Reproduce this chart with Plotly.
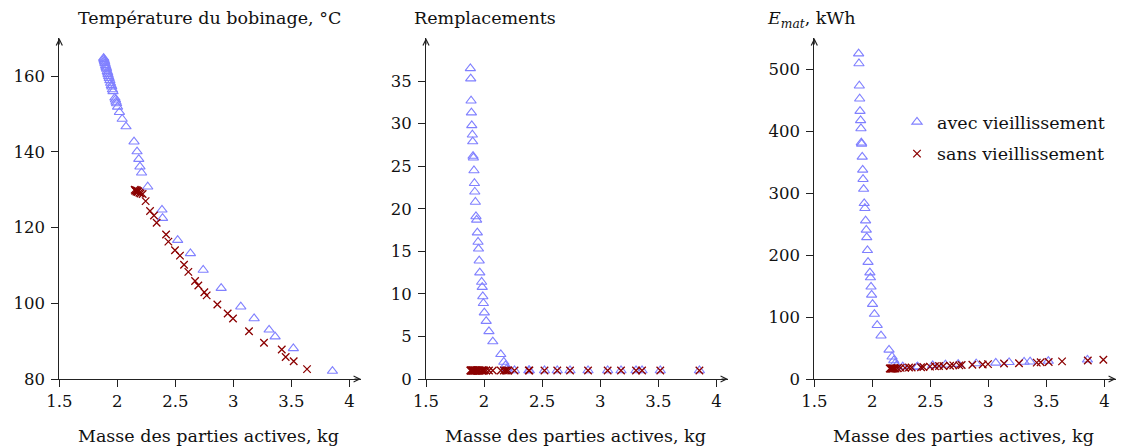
import plotly.graph_objects as go

# ---------------- data ----------------
x_avec = [1.882, 1.885, 1.888, 1.891, 1.894, 1.899, 1.902, 1.905, 1.908, 1.913,
          1.917, 1.920, 1.925, 1.930, 1.936, 1.942, 1.948, 1.952, 1.958, 1.963,
          1.979, 1.984, 1.989, 1.994, 2.002, 2.018,
          2.042, 2.075, 2.144, 2.170, 2.185, 2.195,
          2.209, 2.262, 2.385, 2.390, 2.520, 2.630, 2.740, 2.895, 3.064, 3.179,
          3.308, 3.360, 3.517, 3.854]
temp_avec = [164.8, 164.5, 164.1, 163.8, 163.4, 162.9, 162.5, 162.2, 161.9, 161.3,
             160.9, 160.5, 160.0, 159.5, 158.9, 158.2, 157.6, 157.2, 156.5, 156.0,
             154.3, 153.8, 153.2, 152.8, 151.9, 150.5,
             148.7, 146.7, 142.7, 140.1, 138.1, 136.1,
             134.5, 130.8, 124.7, 122.5, 116.7, 113.2, 108.8, 104.0, 99.1, 96.0,
             93.0, 91.2, 88.1, 82.1]
rempl_avec = [36.5, 35.3, 32.7, 31.3, 29.8, 28.7, 27.9, 26.2, 26.0, 24.5,
              23.0, 22.0, 20.8, 19.1, 18.7, 17.2, 16.1, 15.3, 13.9, 12.5,
              11.4, 10.8, 9.7, 8.9, 7.8, 6.8,
              5.6, 4.4, 2.9, 2.0, 1.6, 1.2,
              1, 1, 1, 1, 1, 1, 1, 1, 1, 1,
              1, 1, 1, 1]
emat_avec = [526, 510, 474, 453, 433, 418, 405, 382, 380, 359,
             338, 323, 307, 284, 276, 256, 241, 229, 208, 189,
             172, 164, 149, 136, 121, 105,
             87, 70, 47, 36, 30, 25,
             22, 20, 19, 20, 22, 23, 24, 25, 26, 27,
             27.5, 28, 29, 31]

x_sans = [2.150, 2.155, 2.160, 2.165, 2.170, 2.175, 2.180, 2.190, 2.200,
          2.218, 2.244, 2.282, 2.316, 2.339, 2.420, 2.440, 2.497, 2.540, 2.575,
          2.612, 2.670, 2.698, 2.750, 2.770, 2.862, 2.951, 2.997, 3.135, 3.264,
          3.417, 3.451, 3.520, 3.635, 3.857, 3.991]
temp_sans = [130.0, 129.7, 129.9, 129.5, 129.8, 129.4, 129.6, 129.2, 129.0,
             128.9, 127.0, 124.4, 123.2, 121.3, 118.2, 116.3, 114.0, 112.6, 110.2,
             108.3, 105.9, 104.7, 102.9, 102.1, 99.7, 97.3, 96.0, 92.6, 89.6,
             87.8, 85.8, 84.7, 82.6, None, None]
emat_sans = [17, 17, 17, 17, 17, 17, 17, 17, 17,
             17.5, 18, 18, 18.5, 18.5, 19, 19.5, 20, 20.5, 21,
             21, 21.5, 22, 22, 22.5, 23, 23.5, 24, 25, 25.5,
             26.5, 27, 27.5, 28.5, 30, 31]
# replacements without ageing (plotted against the same masses as the ageing series)
rempl_sans = [1, 1, 1, 1, 1, 1, 1, 1, 1, 1,
              1, 1, 1, 1, 1, 1, 1, 1, 1, 1,
              1, 1, 1, 1, 1, 1,
              1, 1, 1, 1, 1, 1,
              1, 1, 1, 1, 1, 1, 1, 1, 1, 1,
              1, 1, 1, 1]

x_ticks = [1.5, 2, 2.5, 3, 3.5, 4]
x_ticktext = ["1.5", "2", "2.5", "3", "3.5", "4"]
y1_ticks = [80, 100, 120, 140, 160]
y2_ticks = [0, 5, 10, 15, 20, 25, 30, 35]
y3_ticks = [0, 100, 200, 300, 400, 500]

titles = ["Température du bobinage, °C", "Remplacements", "<i>E<sub>mat</sub></i>, kWh"]
xlabel = "Masse des parties actives, kg"
legend_names = ["avec vieillissement", "sans vieillissement"]

# ---------------- style ----------------
FONT = "DejaVu Serif"
FS_TXT = 17.5
FS_TICK = 16.5
BLUE = "#8080ff"
RED = "#8b0000"
AXC = "#222222"
W, H = 1126, 448
OFF = 8              # page body margin
FW, FH = W - OFF, H - OFF


def px2x(px):
    return (px - OFF) / FW


def py2y(py):
    return 1 - (py - OFF) / FH


x_doms = [(59.3, 361.0), (426.0, 728.0), (814.3, 1116.0)]
y_dom = (py2y(379), py2y(38))
y_ranges = [[80, 170.1], [0, 40.07], [0, 551.2]]
y_ticks = [y1_ticks, y2_ticks, y3_ticks]

fig = go.Figure()


def add_pair(i, xa, ya, xs, ys, show):
    xr = "x" if i == 1 else f"x{i}"
    yr = "y" if i == 1 else f"y{i}"
    fig.add_trace(go.Scatter(x=xa, y=ya, mode="markers", xaxis=xr, yaxis=yr,
                             name=legend_names[0], showlegend=show, legendgroup="a",
                             marker=dict(symbol="triangle-up-open", size=9,
                                         color=BLUE, line=dict(width=1.1, color=BLUE))))
    fig.add_trace(go.Scatter(x=xs, y=ys, mode="markers", xaxis=xr, yaxis=yr,
                             name=legend_names[1], showlegend=show, legendgroup="s",
                             marker=dict(symbol="x-thin-open", size=7.5,
                                         color=RED, line=dict(width=1.3, color=RED))))


add_pair(1, x_avec, temp_avec, x_sans, temp_sans, False)
add_pair(2, x_avec, rempl_avec, x_avec, rempl_sans, False)
add_pair(3, x_avec, emat_avec, x_sans, emat_sans, True)

layout = dict(
    width=FW, height=FH,
    margin=dict(l=0, r=0, t=0, b=0, autoexpand=False),
    paper_bgcolor="white", plot_bgcolor="white",
    font=dict(family=FONT, size=FS_TXT, color="#111111"),
    showlegend=True,
    legend=dict(x=px2x(897), y=py2y(104), xanchor="left", yanchor="top",
                bgcolor="rgba(0,0,0,0)", borderwidth=0, tracegroupgap=6,
                font=dict(family=FONT, size=FS_TXT), itemwidth=30),
)
annotations = []
for i in range(3):
    sfx = "" if i == 0 else str(i + 1)
    layout["xaxis" + sfx] = dict(
        domain=[px2x(x_doms[i][0]), px2x(x_doms[i][1])], range=[1.5, 4.1],
        anchor="y" + sfx, tickvals=x_ticks, ticktext=x_ticktext,
        showgrid=False, zeroline=False, showline=True, linecolor=AXC, linewidth=1,
        ticks="outside", ticklen=7, tickcolor=AXC, tickwidth=1,
        ticklabelstandoff=0, tickfont=dict(family=FONT, size=FS_TICK))
    layout["yaxis" + sfx] = dict(
        domain=list(y_dom), range=y_ranges[i], anchor="x" + sfx,
        tickvals=y_ticks[i], showgrid=False, zeroline=False, showline=True,
        linecolor=AXC, linewidth=1, ticks="outside", ticklen=7, tickcolor=AXC,
        tickwidth=1, ticklabelstandoff=3, tickfont=dict(family=FONT, size=FS_TICK))
    xr = "x" + sfx
    yr = "y" + sfx
    # axis arrow heads
    annotations.append(dict(x=4.1, y=y_ranges[i][0], xref=xr, yref=yr, ax=-8, ay=0,
                            showarrow=True, arrowhead=5, arrowsize=1.2, arrowwidth=1,
                            arrowcolor=AXC, text=""))
    annotations.append(dict(x=1.5, y=y_ranges[i][1], xref=xr, yref=yr, ax=0, ay=8,
                            showarrow=True, arrowhead=5, arrowsize=1.2, arrowwidth=1,
                            arrowcolor=AXC, text=""))
    # x-axis label
    annotations.append(dict(x=px2x((x_doms[i][0] + x_doms[i][1]) / 2 - 2), y=py2y(436),
                            xref="paper", yref="paper", showarrow=False, text=xlabel,
                            xanchor="center", yanchor="middle",
                            font=dict(family=FONT, size=FS_TXT)))

title_cx = [209, 484.5, 811]
title_cy = [18, 18, 20]
for t, cx, cy in zip(titles, title_cx, title_cy):
    annotations.append(dict(x=px2x(cx), y=py2y(cy), xref="paper", yref="paper",
                            showarrow=False, text=t, xanchor="center", yanchor="middle",
                            font=dict(family=FONT, size=FS_TXT)))
layout["annotations"] = annotations
fig.update_layout(**layout)
fig.write_html("out.html")
